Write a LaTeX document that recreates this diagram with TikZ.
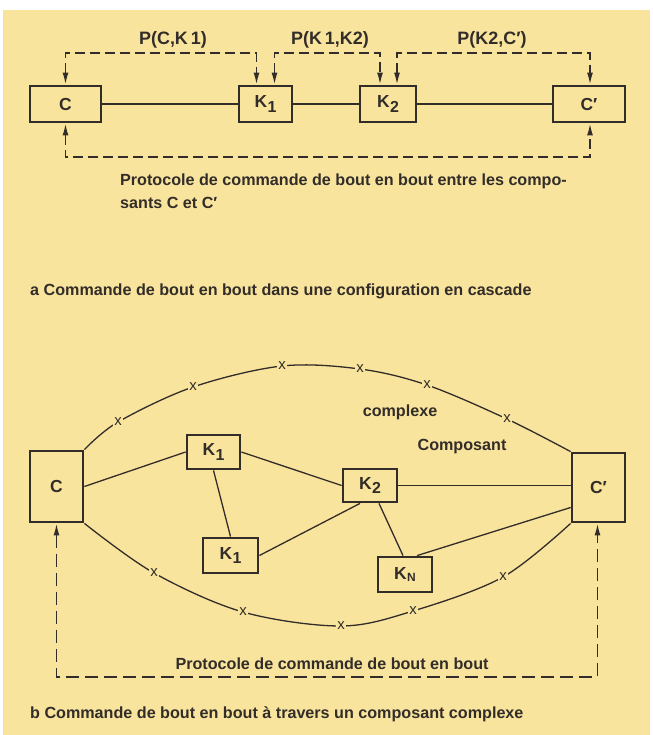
\documentclass[tikz,border=0pt]{standalone}
\usepackage{fontspec}
\setmainfont{Liberation Sans}
\usetikzlibrary{arrows.meta,calc}
\definecolor{paper}{RGB}{249,228,158}
\definecolor{ink}{RGB}{50,45,40}
\newcommand{\Ksub}[2]{K\kern0.5bp\raisebox{-4.5bp}{\fontsize{#2}{#2}\selectfont #1}}
\begin{document}
\begin{tikzpicture}[x=1bp,y=-1bp,
  box/.style={draw=ink,line width=2.8bp,inner sep=0pt,text=ink,font=\fontsize{17.5}{19}\selectfont\bfseries},
  link/.style={draw=ink,line width=1.3bp},
  dsha/.style={draw=ink,line width=1.6bp,dash pattern=on 10bp off 5bp,
     {Latex[length=12bp,width=6bp]}-{Latex[length=12bp,width=6bp]}},
  dshb/.style={draw=ink,line width=1.6bp,dash pattern=on 13bp off 6bp,
     {Latex[length=12bp,width=6bp]}-{Latex[length=12bp,width=6bp]}},
  plab/.style={text=ink,font=\fontsize{18}{20}\selectfont\bfseries},
  captxt/.style={text=ink,font=\fontsize{16.2}{18}\selectfont\bfseries,inner sep=0pt},
  xm/.style={fill=paper,text=ink,inner sep=1.5bp,font=\fontsize{15}{15}\selectfont}]
\useasboundingbox (0,0) rectangle (653,735);
\fill[white] (0,0) rectangle (653,735);
\fill[paper] (3,10) rectangle (650,735);

% ---------- part a ----------
\node[box,minimum width=71bp,minimum height=36bp] (C) at (65.5,104) {C};
\node[box,minimum width=53bp,minimum height=36bp] (K1) at (265.5,104) {\Ksub{1}{16}};
\node[box,minimum width=56bp,minimum height=36bp] (K2) at (388,104) {\Ksub{2}{16}};
\node[box,minimum width=72bp,minimum height=36bp] (Cp) at (589,104) {C′};
\draw[link] (C) -- (K1);
\draw[link] (K1) -- (K2);
\draw[link] (K2) -- (Cp);

\coordinate (topa) at (0,53);
\coordinate (bota) at (0,157);
\draw[dsha] (C.north) -- (C.north |- topa) -| ([xshift=-9bp]K1.north);
\draw[dsha] ([xshift=9bp]K1.north) -- ([xshift=9bp]K1.north |- topa) -| ([xshift=-8bp]K2.north);
\draw[dsha] ([xshift=9bp]K2.north) -- ([xshift=9bp]K2.north |- topa) -| ([xshift=1bp]Cp.north);
\draw[dsha] (C.south) -- (C.south |- bota) -| ([xshift=1bp]Cp.south);

\node[plab] (p1) at (173,40) {P(C,K\,1)};
\node[plab] (p2) at (330,40) {P(K\,1,K2)};
\node[plab] (p3) at (492,40) {P(K2,C′)};

\node[captxt,anchor=west] (ca1) at (120,181) {Protocole de commande de bout en bout entre les compo-};
\node[captxt,anchor=west] (ca2) at (120,203) {sants C et C′};
\node[captxt,anchor=west] (ca3) at (30,291) {a Commande de bout en bout dans une configuration en cascade};

% ---------- part b ----------
\node[box,minimum width=53bp,minimum height=71bp] (C2) at (56.5,486.5) {C};
\node[box,minimum width=53bp,minimum height=34bp] (K1a) at (213.5,452) {\Ksub{1}{16}};
\node[box,minimum width=54bp,minimum height=33bp] (K2b) at (370,485.5) {\Ksub{2}{16}};
\node[box,minimum width=53bp,minimum height=69bp] (Cp2) at (598.5,487.5) {C′};
\node[box,minimum width=55bp,minimum height=35bp] (K1b) at (230.5,555.5) {\Ksub{1}{16}};
\node[box,minimum width=54bp,minimum height=35bp] (KN) at (405,574.5) {K\kern0.5bp\raisebox{-2.5bp}{\fontsize{12}{12}\selectfont N}};

\draw[link] (C2.east) -- (K1a.west);
\draw[link] (K1a.east) -- (K2b.west);
\draw[link] (K2b.east) -- (Cp2.west |- K2b.east);
\draw[link] (K1a.south) -- (K1b.north);
\draw[link] (K1b.east) -- ([xshift=-10bp]K2b.south);
\draw[link] ([xshift=9bp]K2b.south) -- ([xshift=-2bp]KN.north);
\draw[link] ([yshift=-20bp]Cp2.west) -- ([xshift=12bp]KN.north);

\coordinate (t1) at (118,422);
\coordinate (t2) at (193,387);
\coordinate (t3) at (282,366);
\coordinate (t4) at (360,369);
\coordinate (t5) at (427,385);
\coordinate (t6) at (507,419);
\coordinate (b1) at (154,573);
\coordinate (b2) at (243,612);
\coordinate (b3) at (341,626);
\coordinate (b4) at (413,611);
\coordinate (b5) at (503,577);
\draw[link] plot[smooth,tension=0.55] coordinates {(C2.north east) (t1) (t2) (t3) (t4) (t5) (t6) (Cp2.north west)};
\draw[link] plot[smooth,tension=0.55] coordinates {(C2.south east) (b1) (b2) (b3) (b4) (b5) (Cp2.south west)};
\foreach \p in {t1,t2,t3,t4,t5,t6,b1,b2,b3,b4,b5}
  \node[xm] (x\p) at (\p) {x};

\node[captxt] (cplx) at (400,412) {complexe};
\node[captxt] (cmps) at (462,447) {Composant};

\coordinate (botb) at (0,677);
\draw[dshb] (C2.south) -- (C2.south |- botb) -| ([xshift=-1bp]Cp2.south);
\node[captxt] (pb) at (332,664) {Protocole de commande de bout en bout};
\node[captxt,anchor=west] (cb) at (30,714) {b Commande de bout en bout à travers un composant complexe};
\end{tikzpicture}
\end{document}
